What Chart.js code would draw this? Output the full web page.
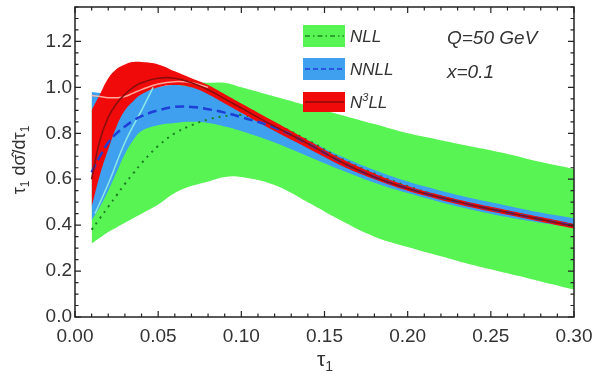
<!DOCTYPE html>
<html>
<head>
<meta charset="utf-8">
<script src="https://cdn.jsdelivr.net/npm/chart.js@4/dist/chart.umd.min.js"></script>
<style>
  html, body { margin: 0; padding: 0; background: #fff; }
  #wrap { width: 593px; height: 375px; }
</style>
</head>
<body>
<div id="wrap"><canvas id="c" width="593" height="375"></canvas></div>
<script>
// tau_1 grid and the three resummation orders (band low / band high / central)
const tau = [0.01, 0.015, 0.02, 0.025, 0.03, 0.035, 0.04, 0.05, 0.06, 0.07, 0.08, 0.09, 0.10, 0.12, 0.14, 0.16, 0.18, 0.20, 0.22, 0.24, 0.26, 0.28, 0.30];

const nllLow  = [0.32, 0.345, 0.37, 0.39, 0.41, 0.43, 0.45, 0.49, 0.54, 0.57, 0.59, 0.61, 0.61, 0.575, 0.50, 0.42, 0.35, 0.305, 0.265, 0.225, 0.19, 0.155, 0.12];
const nllHigh = [0.95, 0.96, 0.97, 0.975, 0.98, 0.985, 0.99, 1.0, 1.01, 1.02, 1.02, 1.02, 1.0, 0.96, 0.92, 0.88, 0.84, 0.80, 0.77, 0.74, 0.71, 0.675, 0.645];
const nllMid  = [0.38, 0.43, 0.48, 0.53, 0.58, 0.625, 0.67, 0.745, 0.80, 0.835, 0.86, 0.875, 0.88, 0.84, 0.77, 0.69, 0.625, 0.57, 0.525, 0.49, 0.46, 0.43, 0.40];

const nnllLow  = [0.42, 0.48, 0.55, 0.63, 0.71, 0.77, 0.81, 0.835, 0.845, 0.85, 0.845, 0.83, 0.81, 0.76, 0.70, 0.64, 0.585, 0.54, 0.50, 0.465, 0.435, 0.41, 0.39];
const nnllHigh = [0.98, 0.975, 0.97, 0.965, 0.965, 0.97, 0.98, 1.0, 1.01, 1.0, 0.98, 0.95, 0.91, 0.84, 0.77, 0.70, 0.64, 0.59, 0.55, 0.515, 0.485, 0.455, 0.43];
const nnllMid  = [0.63, 0.70, 0.76, 0.80, 0.83, 0.855, 0.875, 0.90, 0.915, 0.915, 0.905, 0.89, 0.87, 0.825, 0.755, 0.675, 0.61, 0.56, 0.52, 0.485, 0.455, 0.425, 0.397];

const n3llLow  = [0.48, 0.62, 0.73, 0.83, 0.90, 0.94, 0.97, 1.0, 1.01, 1.0, 0.97, 0.93, 0.89, 0.81, 0.735, 0.66, 0.60, 0.55, 0.51, 0.475, 0.445, 0.415, 0.385];
const n3llHigh = [0.90, 0.97, 1.04, 1.08, 1.10, 1.11, 1.11, 1.10, 1.07, 1.04, 1.01, 0.97, 0.93, 0.85, 0.77, 0.69, 0.625, 0.57, 0.53, 0.495, 0.465, 0.435, 0.405];
const n3llMid  = [0.60, 0.77, 0.87, 0.93, 0.97, 1.0, 1.02, 1.04, 1.04, 1.02, 0.99, 0.95, 0.91, 0.83, 0.755, 0.675, 0.61, 0.56, 0.52, 0.485, 0.455, 0.425, 0.395];

// thin scale-variation edges that show through the bands
const cyanTau  = [0.012, 0.02, 0.03, 0.04, 0.047];
const cyanEdge = [0.45, 0.58, 0.76, 0.90, 1.0];
const pinkTau  = [0.01, 0.015, 0.02, 0.025, 0.03, 0.035, 0.04, 0.05, 0.06, 0.07, 0.08];
const pinkEdge = [0.965, 0.96, 0.955, 0.955, 0.96, 0.975, 0.99, 1.015, 1.025, 1.02, 1.0];

const xTickStep = 0.05, xMinorStep = 0.01;
const yTickStep = 0.2, yMinorStep = 0.05;

const GREEN = 'rgb(88,244,84)';
const BLUE = 'rgb(62,160,238)';
const RED = 'rgb(240,10,10)';

function pts(xs, ys){ return xs.map((x, i) => ({x: x, y: ys[i]})); }

function band(data, color, target){
    return { data: data, borderWidth: 0, pointRadius: 0, backgroundColor: color,
             fill: target === undefined ? false : {target: target}, tension: 0.4 };
}
function line(data, color, width, dash){
    return { data: data, borderColor: color, borderWidth: width, borderDash: dash || [],
             pointRadius: 0, fill: false, tension: 0.4 };
}

// listed bottom -> top; "order" makes the first one drawn first
const layers = [
    band(pts(tau, nllLow), GREEN),
    band(pts(tau, nllHigh), GREEN, 0),
    band(pts(tau, nnllLow), BLUE),
    band(pts(tau, nnllHigh), BLUE, 2),
    line(pts(tau, nllMid), '#1d7d22', 2, [2, 5]),
    band(pts(tau, n3llLow), RED),
    band(pts(tau, n3llHigh), RED, 5),
    line(pts(cyanTau, cyanEdge), 'rgba(150,240,230,0.9)', 1.5),
    line(pts(pinkTau, pinkEdge), 'rgba(255,185,170,0.9)', 1.5),
    line(pts(tau, nnllMid), '#1d3fd6', 2.5, [9, 5]),
    line(pts(tau, n3llMid), '#8a0d0d', 1.6)
];
layers.forEach((d, i) => { d.order = layers.length - i; });

function richText(ctx, parts, x, y, align){
    // parts: [text, sizePx, dy, fontStyle]
    let w = 0;
    parts.forEach(p => { ctx.font = (p[3] || '') + ' ' + p[1] + 'px "Liberation Sans", Arial, sans-serif'; w += ctx.measureText(p[0]).width; });
    let cx = align === 'center' ? x - w / 2 : x;
    parts.forEach(p => {
        ctx.font = (p[3] || '') + ' ' + p[1] + 'px "Liberation Sans", Arial, sans-serif';
        ctx.fillText(p[0], cx, y + p[2]);
        cx += ctx.measureText(p[0]).width;
    });
}

const frame = {
    id: 'frame',
    afterDraw(chart){
        const ctx = chart.ctx, a = chart.chartArea;
        const xs = chart.scales.x, ys = chart.scales.y;
        ctx.save();
        ctx.strokeStyle = '#222';
        ctx.lineWidth = 1.5;
        ctx.strokeRect(a.left, a.top, a.right - a.left, a.bottom - a.top);
        ctx.lineWidth = 1.2;
        ctx.beginPath();
        for(let k = 0; k <= Math.round(xs.max / xMinorStep); k++){
            const v = k * xMinorStep, px = xs.getPixelForValue(v);
            const len = (k % Math.round(xTickStep / xMinorStep) === 0) ? 6 : 3.5;
            ctx.moveTo(px, a.bottom); ctx.lineTo(px, a.bottom - len);
            ctx.moveTo(px, a.top); ctx.lineTo(px, a.top + len);
        }
        for(let k = 0; k * yMinorStep <= ys.max + 1e-9; k++){
            const v = k * yMinorStep, py = ys.getPixelForValue(v);
            const len = (k % Math.round(yTickStep / yMinorStep) === 0) ? 6 : 3.5;
            ctx.moveTo(a.left, py); ctx.lineTo(a.left + len, py);
            ctx.moveTo(a.right, py); ctx.lineTo(a.right - len, py);
        }
        ctx.stroke();

        // axis titles
        ctx.fillStyle = '#333';
        ctx.textBaseline = 'alphabetic';
        richText(ctx, [['τ', 21, 0], ['1', 14, 5]], 325, 366, 'center');
        ctx.save();
        ctx.translate(25, 160);
        ctx.rotate(-Math.PI / 2);
        richText(ctx, [['τ', 18, 0], ['1', 12, 4], [' dσ̂/dτ', 18, 0], ['1', 12, 4]], 0, 0, 'center');
        ctx.restore();

        // legend
        const rows = [
            {y: 25, h: 22, fill: GREEN, stroke: '#1d8a22', dash: [5, 3, 1.5, 3], label: [['NLL', 17, 0, 'italic']]},
            {y: 58, h: 22, fill: BLUE, stroke: '#1d3fd6', dash: [5, 3], label: [['NNLL', 17, 0, 'italic']]},
            {y: 92, h: 20, fill: RED, stroke: '#8a0d0d', dash: [], label: [['N', 17, 0, 'italic'], ['3', 11, -7, 'italic'], ['LL', 17, 0, 'italic']]}
        ];
        rows.forEach(r => {
            ctx.fillStyle = r.fill;
            ctx.fillRect(303, r.y, 42, r.h);
            ctx.strokeStyle = r.stroke;
            ctx.lineWidth = 1.5;
            ctx.setLineDash(r.dash);
            ctx.beginPath();
            ctx.moveTo(305, r.y + r.h / 2); ctx.lineTo(344, r.y + r.h / 2);
            ctx.stroke();
            ctx.setLineDash([]);
            ctx.fillStyle = '#333';
            richText(ctx, r.label, 350, r.y + r.h / 2 + 6, 'left');
        });
        richText(ctx, [['Q=50 GeV', 19, 0, 'italic']], 447, 44, 'left');
        richText(ctx, [['x=0.1', 19, 0, 'italic']], 447, 78, 'left');
        ctx.restore();
    }
};

new Chart(document.getElementById('c'), {
    type: 'line',
    data: { datasets: layers },
    options: {
        responsive: false,
        animation: false,
        devicePixelRatio: 1,
        layout: { padding: { top: 7, right: 19, left: 0, bottom: 0 } },
        plugins: { legend: { display: false }, tooltip: { enabled: false } },
        scales: {
            x: {
                type: 'linear', min: 0, max: 0.3,
                grid: { display: false, drawTicks: false },
                border: { display: false },
                ticks: { stepSize: xTickStep, includeBounds: false, padding: 8, color: '#333',
                         font: { family: '"Liberation Sans", Arial, sans-serif', size: 19 },
                         maxRotation: 0, autoSkip: false,
                         callback: v => v.toFixed(2) },
                afterFit(s){ s.height = 58; s.paddingLeft = 0; s.paddingRight = 0; }
            },
            y: {
                min: 0, max: 1.35,
                grid: { display: false, drawTicks: false },
                border: { display: false },
                ticks: { stepSize: yTickStep, includeBounds: false, padding: 3, color: '#333',
                         font: { family: '"Liberation Sans", Arial, sans-serif', size: 19 },
                         callback: v => v.toFixed(1) },
                afterFit(s){ s.width = 75; s.paddingTop = 0; s.paddingBottom = 0; }
            }
        }
    },
    plugins: [frame]
});
</script>
</body>
</html>
